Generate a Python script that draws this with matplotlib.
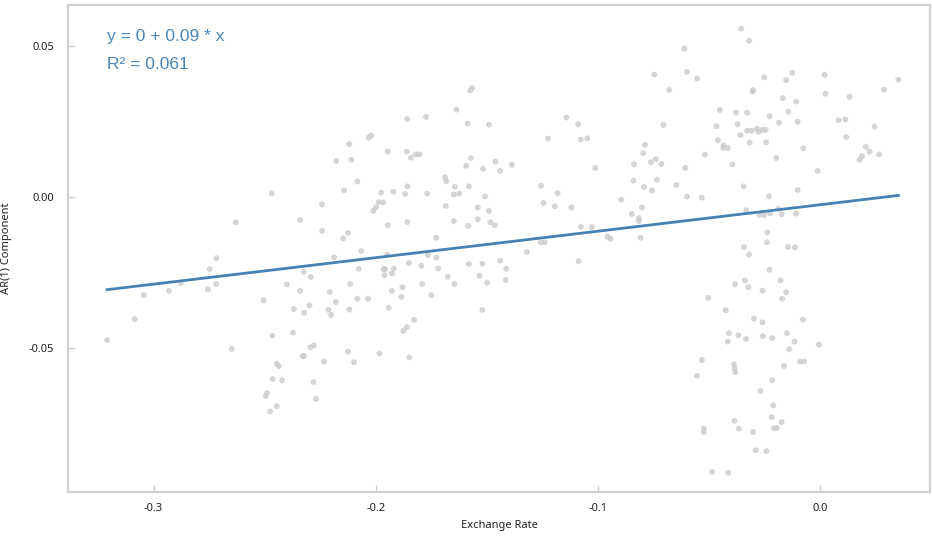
import numpy as np
import matplotlib
matplotlib.use("Agg")
import matplotlib.pyplot as plt

# exchange rate vs AR(1) component, one entry per observation
exchange_rate = [
    -0.2468, -0.2630, -0.2340, -0.2717, -0.2747, -0.2877, -0.2930, -0.3044, -0.2755, -0.2718,
    -0.3085, -0.3209, -0.2648, -0.2504, -0.2400, -0.2340, -0.2324, -0.2368, -0.2322, -0.2465,
    -0.2372, -0.2329, -0.2322, -0.2445, -0.2436, -0.2463, -0.2421, -0.2489, -0.2495, -0.2445,
    -0.2475, -0.1574, -0.1565, -0.1636, -0.1858, -0.1773, -0.1586, -0.1489, -0.2031, -0.2020,
    -0.2119, -0.2177, -0.2109, -0.1945, -0.1859, -0.1841, -0.1819, -0.1803, -0.1571, -0.1592,
    -0.1516, -0.1460, -0.1439, -0.2082, -0.2142, -0.2241, -0.1687, -0.1682, -0.1643, -0.1580,
    -0.1857, -0.1975, -0.1920, -0.1867, -0.1768, -0.1648, -0.1624, -0.1507, -0.1986, -0.1966,
    -0.1998, -0.2010, -0.1684, -0.1540, -0.1490, -0.1540, -0.1483, -0.1463, -0.1648, -0.1582,
    -0.1945, -0.1857, -0.2241, -0.2124, -0.2146, -0.1727, -0.2065, -0.2187, -0.1948, -0.1765,
    -0.1726, -0.2292, -0.2076, -0.1965, -0.1957, -0.1918, -0.1960, -0.1927, -0.1850, -0.1794,
    -0.1718, -0.1580, -0.1519, -0.1439, -0.1675, -0.1645, -0.1532, -0.1498, -0.2206, -0.2115,
    -0.1927, -0.1879, -0.1791, -0.1884, -0.1749, -0.2083, -0.2034, -0.2179, -0.2298, -0.2213,
    -0.2200, -0.2118, -0.1941, -0.1519, -0.1827, -0.1859, -0.1875, -0.2294, -0.2278, -0.2232,
    -0.2124, -0.2097, -0.1983, -0.1848, -0.2280, -0.2268, -0.0610, -0.0745, -0.0598, -0.0552,
    -0.0678, -0.1141, -0.1088, -0.0704, -0.1224, -0.1077, -0.1047, -0.0787, -0.0795, -0.1386,
    -0.1010, -0.0836, -0.0760, -0.0738, -0.0713, -0.0605, -0.0839, -0.0791, -0.0733, -0.0755,
    -0.0646, -0.0598, -0.1255, -0.1181, -0.1244, -0.1193, -0.1118, -0.0894, -0.0801, -0.0846,
    -0.0814, -0.0814, -0.1076, -0.1026, -0.0956, -0.0942, -0.0807, -0.1256, -0.1238, -0.1319,
    -0.1412, -0.1414, -0.1086, -0.0354, -0.0318, -0.0250, -0.0124, -0.0151, 0.0022, 0.0354,
    0.0289, -0.0300, -0.0303, -0.0166, -0.0106, 0.0026, 0.0134, -0.0450, -0.0377, -0.0327,
    -0.0142, -0.0226, -0.0465, -0.0370, -0.0184, -0.0100, 0.0085, 0.0115, 0.0247, 0.0119,
    -0.0327, -0.0307, -0.0283, -0.0276, -0.0260, -0.0244, -0.0357, -0.0316, -0.0242, -0.0459,
    -0.0433, -0.0435, -0.0414, -0.0517, -0.0393, -0.0196, -0.0074, -0.0010, 0.0208, 0.0224,
    0.0267, 0.0190, 0.0179, -0.0343, -0.0229, -0.0100, -0.0531, -0.0331, -0.0187, -0.0271,
    -0.0250, -0.0224, -0.0172, -0.0107, -0.0236, -0.0238, -0.0341, -0.0143, -0.0112, -0.0319,
    -0.0226, -0.0337, -0.0381, -0.0322, -0.0177, -0.0258, -0.0151, -0.0170, -0.0502, -0.0423,
    -0.0296, -0.0258, -0.0076, -0.0409, -0.0367, -0.0414, -0.0332, -0.0256, -0.0214, -0.0148,
    -0.0114, -0.0137, -0.0004, -0.0531, -0.0553, -0.0386, -0.0384, -0.0381, -0.0161, -0.0088,
    -0.0070, -0.0214, -0.0267, -0.0209, -0.0217, -0.0384, -0.0172, -0.0364, -0.0300, -0.0206,
    -0.0193, -0.0522, -0.0522, -0.0289, -0.0240, -0.0484, -0.0412,
]
ar1_component = [
    0.0012, -0.0084, -0.0076, -0.0203, -0.0239, -0.0285, -0.0311, -0.0325, -0.0306, -0.0288,
    -0.0404, -0.0474, -0.0503, -0.0342, -0.0290, -0.0311, -0.0248, -0.0371, -0.0384, -0.0459,
    -0.0449, -0.0527, -0.0527, -0.0552, -0.0560, -0.0603, -0.0607, -0.0650, -0.0659, -0.0693,
    -0.0710, 0.0352, 0.0361, 0.0289, 0.0258, 0.0265, 0.0243, 0.0239, 0.0196, 0.0203,
    0.0175, 0.0119, 0.0123, 0.0150, 0.0150, 0.0130, 0.0141, 0.0141, 0.0129, 0.0103,
    0.0093, 0.0117, 0.0086, 0.0051, 0.0022, -0.0025, 0.0065, 0.0052, 0.0034, 0.0035,
    0.0035, 0.0014, 0.0017, 0.0010, 0.0011, 0.0008, 0.0011, 0.0002, -0.0017, -0.0018,
    -0.0034, -0.0046, -0.0030, -0.0035, -0.0046, -0.0074, -0.0084, -0.0094, -0.0080, -0.0096,
    -0.0094, -0.0083, -0.0112, -0.0119, -0.0137, -0.0135, -0.0179, -0.0200, -0.0191, -0.0193,
    -0.0201, -0.0265, -0.0238, -0.0239, -0.0239, -0.0237, -0.0259, -0.0253, -0.0219, -0.0228,
    -0.0237, -0.0222, -0.0221, -0.0211, -0.0264, -0.0288, -0.0261, -0.0284, -0.0315, -0.0288,
    -0.0311, -0.0299, -0.0288, -0.0331, -0.0325, -0.0337, -0.0337, -0.0348, -0.0359, -0.0374,
    -0.0391, -0.0373, -0.0367, -0.0374, -0.0407, -0.0431, -0.0443, -0.0498, -0.0492, -0.0545,
    -0.0512, -0.0547, -0.0518, -0.0531, -0.0613, -0.0668, 0.0491, 0.0405, 0.0414, 0.0392,
    0.0354, 0.0263, 0.0241, 0.0239, 0.0193, 0.0190, 0.0194, 0.0172, 0.0145, 0.0107,
    0.0096, 0.0108, 0.0115, 0.0125, 0.0109, 0.0096, 0.0054, 0.0033, 0.0057, 0.0021,
    0.0040, 0.0001, 0.0037, 0.0012, -0.0020, -0.0031, -0.0035, -0.0009, -0.0035, -0.0056,
    -0.0070, -0.0080, -0.0099, -0.0100, -0.0132, -0.0139, -0.0135, -0.0150, -0.0150, -0.0182,
    -0.0238, -0.0275, -0.0213, 0.0557, 0.0517, 0.0396, 0.0411, 0.0387, 0.0404, 0.0388,
    0.0355, 0.0354, 0.0349, 0.0327, 0.0316, 0.0342, 0.0331, 0.0288, 0.0279, 0.0279,
    0.0282, 0.0267, 0.0234, 0.0241, 0.0246, 0.0249, 0.0254, 0.0257, 0.0233, 0.0198,
    0.0219, 0.0219, 0.0226, 0.0216, 0.0222, 0.0222, 0.0205, 0.0180, 0.0181, 0.0188,
    0.0171, 0.0162, 0.0162, 0.0140, 0.0108, 0.0129, 0.0161, 0.0086, 0.0166, 0.0150,
    0.0141, 0.0135, 0.0123, 0.0035, 0.0002, 0.0023, -0.0002, -0.0044, -0.0039, -0.0059,
    -0.0060, -0.0054, -0.0057, -0.0055, -0.0117, -0.0150, -0.0166, -0.0165, -0.0167, -0.0191,
    -0.0241, -0.0276, -0.0289, -0.0299, -0.0276, -0.0310, -0.0316, -0.0337, -0.0334, -0.0375,
    -0.0403, -0.0415, -0.0406, -0.0451, -0.0458, -0.0479, -0.0470, -0.0461, -0.0467, -0.0451,
    -0.0479, -0.0504, -0.0489, -0.0540, -0.0592, -0.0554, -0.0567, -0.0580, -0.0560, -0.0545,
    -0.0545, -0.0607, -0.0642, -0.0690, -0.0729, -0.0741, -0.0745, -0.0767, -0.0778, -0.0766,
    -0.0765, -0.0767, -0.0779, -0.0839, -0.0842, -0.0910, -0.0913,
]

x_ticks = [-0.3, -0.2, -0.1, 0.0]
x_tick_labels = ["-0.3", "-0.2", "-0.1", "0.0"]
y_ticks = [0.05, 0.0, -0.05]
y_tick_labels = ["0.05", "0.00", "-0.05"]

equation_text = "y = 0 + 0.09 * x"
r2_text = "R² = 0.061"

x = np.array(exchange_rate)
y = np.array(ar1_component)

# least squares line
slope, intercept = np.polyfit(x, y, 1)
line_x = np.array([x.min(), x.max()])
line_y = intercept + slope * line_x

fig = plt.figure(figsize=(9.32, 5.36), dpi=100)
ax = fig.add_axes([0.073, 0.082, 0.925, 0.909])

ax.scatter(x, y, s=18, color="#cbcbcb", alpha=0.8, edgecolors="none", zorder=2)
ax.plot(line_x, line_y, color="#4682b4", linewidth=2.0, zorder=3)

ax.set_xlim(-0.3385, 0.0497)
ax.set_ylim(-0.0977, 0.0636)

ax.set_xticks(x_ticks)
ax.set_xticklabels(x_tick_labels)
ax.set_yticks(y_ticks)
ax.set_yticklabels(y_tick_labels)
ax.tick_params(axis="both", direction="in", length=5, width=1, color="#d0d0d0",
               labelsize=8, labelcolor="#222222")
ax.tick_params(axis="y", pad=10)
ax.tick_params(axis="x", pad=8)
for lab in ax.get_xticklabels() + ax.get_yticklabels():
    lab.set_family("Noto Sans")

for side in ax.spines.values():
    side.set_color("#d0d0d0")
    side.set_linewidth(1.6)

ax.set_xlabel("Exchange Rate", fontsize=8, family="Noto Sans", color="#222222", labelpad=4)
ax.set_ylabel("AR(1) Component", fontsize=8, family="Noto Sans", color="#222222", labelpad=12)

ax.text(0.045, 0.935, equation_text, transform=ax.transAxes, fontsize=12.5,
        family="Liberation Sans", color="#4a86b8", va="center")
ax.text(0.045, 0.878, r2_text, transform=ax.transAxes, fontsize=12.5,
        family="Liberation Sans", color="#4a86b8", va="center")

fig.savefig("out.png", dpi=100)
